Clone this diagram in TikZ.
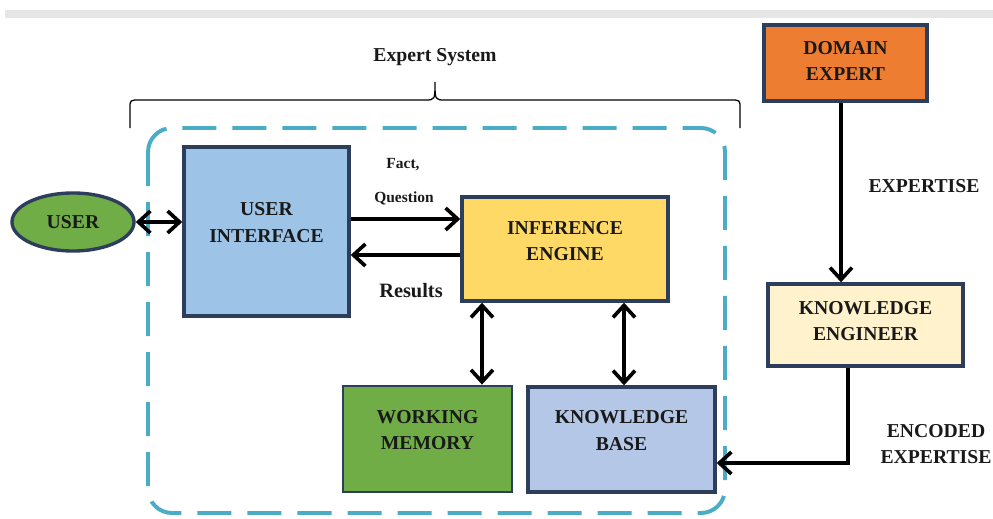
\documentclass[tikz,border=0pt]{standalone}
\usepackage{fontspec}
\setmainfont{Liberation Serif}
\usetikzlibrary{arrows.meta,shapes.geometric}

\definecolor{edgenavy}{RGB}{44,62,92}
\definecolor{frameteal}{RGB}{75,172,198}
\definecolor{uiblue}{RGB}{157,195,230}
\definecolor{ieyellow}{RGB}{255,217,102}
\definecolor{wmgreen}{RGB}{112,173,71}
\definecolor{kbblue}{RGB}{180,199,231}
\definecolor{deorange}{RGB}{237,125,49}
\definecolor{kecream}{RGB}{255,242,204}
\definecolor{bargray}{RGB}{230,230,230}

\tikzset{
  blk/.style={draw=edgenavy, line width=2.4pt, inner sep=0pt, align=center,
    font=\fontsize{14}{19}\selectfont\bfseries, text=black!90},
  lbl/.style={font=\fontsize{14}{19}\selectfont\bfseries, align=center, text=black!90},
  arr/.style={line width=2.6pt, -{Straight Barb[length=3mm,width=5.5mm]}},
  darr/.style={line width=2.6pt, {Straight Barb[length=3mm,width=5.5mm]}-{Straight Barb[length=3mm,width=5.5mm]}},
  sysframe/.style={draw=frameteal, line width=2.8pt, rounded corners=0.6cm,
    dash pattern=on 0.85cm off 0.4cm}
}

\begin{document}
\begin{tikzpicture}[x=0.025cm, y=-0.025cm]
        \useasboundingbox (0,0) rectangle (993,519);
        \fill[bargray] (5,10) rectangle (993,18);

        % expert system frame and brace
        \draw[sysframe] (148,128) rectangle (725,513);
        \draw[line width=0.9pt] (130,128) -- (130,108) .. controls (130,100) .. (140,100) -- (425,100)
            .. controls (435,100) .. (435,82) .. controls (435,100) .. (445,100) -- (730,100)
            .. controls (740,100) .. (740,108) -- (740,128);
        \node[lbl] (sys) at (435,57) {Expert System};

        % blocks
        \node[ellipse, blk, fill=wmgreen, minimum width=3.05cm, minimum height=1.45cm] (USER) at (73,222) {USER};
        \node[blk, fill=uiblue, minimum width=4.125cm, minimum height=4.225cm,
              label={[lbl, yshift=0.22cm]center:{USER\\INTERFACE}}] (UI) at (266.5,231.5) {};
        \node[blk, fill=ieyellow, minimum width=5.15cm, minimum height=2.6cm,
              label={[lbl, yshift=0.2cm]center:{INFERENCE\\ENGINE}}] (IE) at (565,249) {};
        \node[blk, fill=wmgreen, line width=2pt, minimum width=4.225cm, minimum height=2.65cm,
              label={[lbl, yshift=0.22cm]center:{WORKING\\MEMORY}}] (WM) at (427.5,439) {};
        \node[blk, fill=kbblue, minimum width=4.675cm, minimum height=2.625cm,
              label={[lbl, yshift=0.22cm]center:{KNOWLEDGE\\BASE}}] (KB) at (621.5,439.5) {};
        \node[blk, fill=deorange, minimum width=4.075cm, minimum height=1.9cm,
              label={[lbl, yshift=0.05cm]center:{DOMAIN\\EXPERT}}] (DE) at (845.5,63) {};
        \node[blk, fill=kecream, minimum width=4.875cm, minimum height=2.05cm,
              label={[lbl, yshift=0.1cm]center:{KNOWLEDGE\\ENGINEER}}] (KE) at (865.5,325) {};

        % connectors
        \draw[darr] (USER.east) -- (UI.west |- USER.east);
        \draw[arr] (UI.east |- 0,219) -- (IE.west |- 0,219);
        \draw[arr] (IE.west |- 0,255) -- (UI.east |- 0,255);
        \draw[darr] (IE.south -| 482,0) -- (WM.north -| 482,0);
        \draw[darr] (IE.south -| 624,0) -- (KB.north -| 624,0);
        \draw[arr] (DE.south -| 841,0) -- (KE.north -| 841,0);
        \draw[arr] (KE.south -| 848,0) |- (KB.east |- 0,463);

        % connector labels
        \node[lbl, font=\fontsize{11}{14}\selectfont\bfseries] (fact) at (403,165) {Fact,};
        \node[lbl, font=\fontsize{11}{14}\selectfont\bfseries] (quest) at (404,198) {Question};
        \node[lbl, font=\fontsize{14.5}{19}\selectfont\bfseries] (res) at (411,291) {Results};
        \node[lbl] (expt) at (924,186) {EXPERTISE};
        \node[lbl] (enc) at (936,444) {ENCODED\\EXPERTISE};
\end{tikzpicture}
\end{document}
